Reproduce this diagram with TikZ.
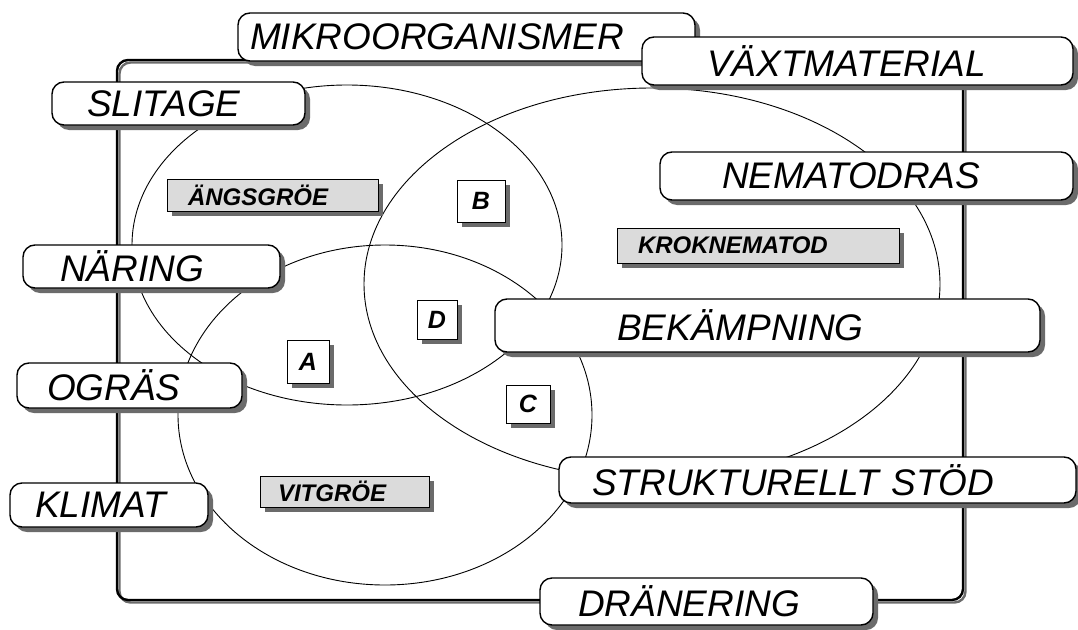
\documentclass[tikz,border=0pt]{standalone}
\usepackage{fontspec}
\setmainfont{Liberation Sans}
\usetikzlibrary{shadows}
\definecolor{shadowgray}{gray}{0.42}
\definecolor{labelfill}{gray}{0.86}
\tikzset{
  frameline/.style={line width=2.4pt, rounded corners=11pt},
  setline/.style={line width=0.9pt},
  boxshadow/.style={drop shadow={shadow xshift=5pt, shadow yshift=-5pt, fill=shadowgray, opacity=1}},
  bigbox/.style={draw, fill=white, line width=1.4pt, rounded corners=12pt,
    anchor=north west, align=left, inner ysep=0pt, outer sep=0pt,
    font=\fontsize{37pt}{40pt}\selectfont\itshape, boxshadow},
  graylabel/.style={draw, fill=labelfill, line width=1pt,
    anchor=north west, align=left, inner ysep=0pt, outer sep=0pt,
    font=\fontsize{24pt}{26pt}\selectfont\bfseries\itshape, boxshadow},
  letterbox/.style={draw, fill=white, line width=1pt, inner sep=0pt, outer sep=0pt,
    font=\fontsize{25pt}{27pt}\selectfont\bfseries\itshape, boxshadow}
}
\begin{document}
\begin{tikzpicture}[x=1pt, y=-1pt]
\useasboundingbox (0,0) rectangle (1078,629);
% outer frame
\draw[frameline, draw=shadowgray] (119.5,62.5) rectangle (965.5,602.5);
\draw[frameline] (117,60) rectangle (963,600);
% sets
\draw[setline] (347,245) ellipse [x radius=215pt, y radius=160pt];
\draw[setline] (385,415) ellipse [x radius=207pt, y radius=170pt];
\draw[setline] (652,284) ellipse [x radius=288pt, y radius=196pt];
% big labels
\node[bigbox, minimum height=48pt, inner xsep=12pt, text width=433pt] (mikro) at (238,13) {MIKROORGANISMER};
\node[bigbox, minimum height=48pt, inner xsep=65pt, text width=301pt] (vaxt) at (642,37) {VÄXTMATERIAL};
\node[bigbox, minimum height=43pt, inner xsep=35pt, text width=183pt] (slitage) at (52,82) {SLITAGE};
\node[bigbox, minimum height=48pt, inner xsep=62pt, text width=289pt] (nemato) at (660,152) {NEMATODRAS};
\node[bigbox, minimum height=43pt, inner xsep=37pt, text width=183pt] (naring) at (23,245) {NÄRING};
\node[bigbox, minimum height=45pt, inner xsep=30pt, text width=165pt] (ogras) at (17,363) {OGRÄS};
\node[bigbox, minimum height=44pt, inner xsep=25pt, text width=148pt] (klimat) at (10,483) {KLIMAT};
\node[bigbox, minimum height=53pt, inner xsep=122pt, text width=301pt] (bekamp) at (495,299) {BEKÄMPNING};
\node[bigbox, minimum height=46pt, inner xsep=33pt, text width=451pt] (strukt) at (559,457) {STRUKTURELLT STÖD};
\node[bigbox, minimum height=47pt, inner xsep=38pt, text width=257pt] (dran) at (540,578) {DRÄNERING};
% species labels
\node[graylabel, minimum height=32pt, inner xsep=21pt, text width=169pt] (angs) at (167,179) {ÄNGSGRÖE};
\node[graylabel, minimum height=35pt, inner xsep=21pt, text width=240pt] (krok) at (617,228) {KROKNEMATOD};
\node[graylabel, minimum height=31pt, inner xsep=18pt, text width=133pt] (vit) at (260,476) {VITGRÖE};
% region letters
\node[letterbox, minimum width=48pt, minimum height=42pt] (B) at (481,201) {B};
\node[letterbox, minimum width=40pt, minimum height=39pt] (D) at (437,319.5) {D};
\node[letterbox, minimum width=42pt, minimum height=43pt] (A) at (308,361.5) {A};
\node[letterbox, minimum width=44pt, minimum height=38pt] (C) at (528,404) {C};
\end{tikzpicture}
\end{document}
